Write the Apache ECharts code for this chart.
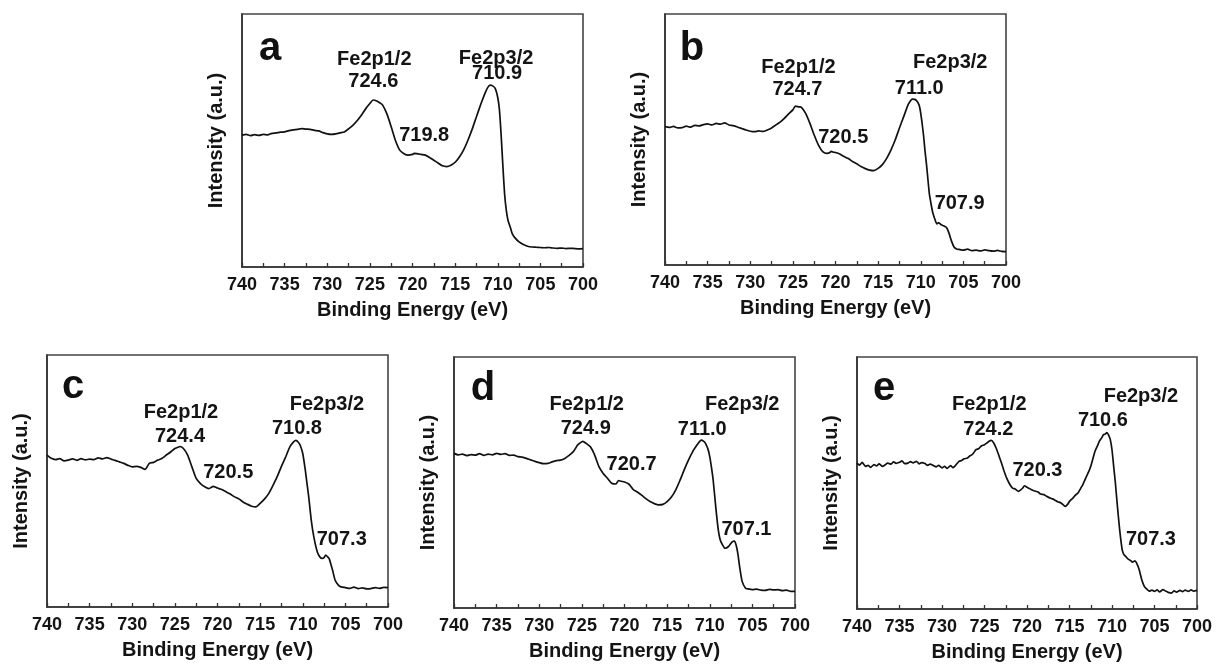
<!DOCTYPE html>
<html>
<head>
<meta charset="utf-8">
<script src="https://cdn.jsdelivr.net/npm/echarts@6/dist/echarts.min.js"></script>
<style>
  html, body { margin: 0; padding: 0; background: #fff; }
  #chart { width: 1217px; height: 668px; }
</style>
</head>
<body>
<div id="chart"></div>
<script>
// Fe 2p XPS spectra, five samples (a–e). Pairs are [binding energy (eV), intensity (a.u.)].
const energyRange = [700, 740];
const energyStep = 5;
const levelNames = ['Fe2p1/2', 'Fe2p3/2'];

const specA = [
  [740,52.1],[739.5,52.4],[739,51.9],[738.5,52.3],[738,52.0],[737.5,52.4],[737,52.2],[736.5,52.8],[736,53.0],
  [735.5,53.3],[735,53.4],[734.5,53.9],[734,54.2],[733.5,54.4],[733,54.7],[732.5,54.5],[732,54.4],[731.5,54.0],
  [731,53.8],[730.5,53.1],[730,52.6],[729.5,52.4],[729,52.6],[728.5,53.0],[728,53.4],[727.5,54.6],[727,56.0],
  [726.5,57.8],[726,60.0],[725.5,62.5],[725,64.6],[724.6,66.0],[724.2,65.6],[723.8,64.8],[723.5,64.0],[723,60.5],
  [722.5,55.4],[722,50.0],[721.5,46.2],[721,44.8],[720.5,44.2],[720,44.5],[719.8,44.9],[719.5,44.8],[719,44.5],
  [718.5,44.2],[718,43.3],[717.5,42.2],[717,41.1],[716.5,40.0],[716,39.7],[715.5,40.2],[715,41.4],[714.5,43.5],
  [714,46.3],[713.5,50.1],[713,54.5],[712.5,59.4],[712,64.2],[711.5,68.6],[711.2,70.8],[710.9,71.9],[710.6,71.6],
  [710.3,70.6],[710,67.0],[709.8,62.0],[709.6,52.0],[709.4,40.0],[709.2,29.0],[709,22.5],[708.8,18.5],[708.5,15.4],
  [708.3,13.2],[708,11.6],[707.5,9.9],[707,8.9],[706.5,8.2],[706,7.9],[705.5,7.8],[705,7.7],[704.5,7.6],[704,7.7],
  [703.5,7.5],[703,7.4],[702.5,7.5],[702,7.3],[701.5,7.4],[701,7.3],[700.5,7.2],[700,7.3]
];
const specB = [
  [740,55.1],[739.5,54.8],[739,55.2],[738.5,54.6],[738,54.7],[737.5,55.3],[737,54.9],[736.5,55.6],[736,55.4],
  [735.5,55.9],[735,56.2],[734.5,55.8],[734,56.4],[733.5,56.1],[733,56.6],[732.5,55.8],[732,55.5],[731.5,55.0],
  [731,54.4],[730.5,53.8],[730,53.3],[729.5,53.1],[729,53.4],[728.5,53.2],[728,53.8],[727.5,54.6],[727,55.8],
  [726.5,56.9],[726,58.4],[725.5,60.2],[725,61.8],[724.7,63.3],[724.3,63.0],[724,62.8],[723.5,60.4],[723,56.4],
  [722.5,51.8],[722,47.8],[721.5,45.2],[721,44.5],[720.7,44.7],[720.5,45.3],[720.2,44.9],[720,44.8],[719.5,44.2],
  [719,43.2],[718.5,42.4],[718,41.2],[717.5,40.3],[717,39.2],[716.5,38.4],[716,37.8],[715.5,37.6],[715,38.5],
  [714.5,40.0],[714,42.5],[713.5,45.8],[713,49.8],[712.5,54.6],[712,59.1],[711.5,63.7],[711.2,65.4],[711,66.1],
  [710.7,66.0],[710.5,65.5],[710.2,63.8],[710,60.4],[709.7,52.5],[709.5,45.5],[709.3,39.2],[709,28.6],[708.8,24.5],
  [708.6,21.0],[708.3,17.8],[708.1,16.4],[707.9,16.9],[707.6,16.0],[707.3,15.6],[707,15.0],[706.7,12.8],[706.4,9.6],
  [706.1,7.2],[705.8,6.4],[705.5,6.2],[705,5.9],[704.5,6.3],[704,5.7],[703.5,5.9],[703,5.6],[702.5,6.0],[702,5.7],
  [701.5,5.5],[701,5.8],[700.5,5.4],[700,5.3]
];
const specC = [
  [740,60.3],[739.5,59.0],[739,58.5],[738.5,58.9],[738,58.0],[737.5,58.3],[737,58.8],[736.5,58.2],[736,58.9],
  [735.5,58.4],[735,58.7],[734.5,58.5],[734,59.2],[733.5,58.8],[733,59.3],[732.5,58.7],[732,58.2],[731.5,57.6],
  [731,57.0],[730.5,56.2],[730,55.6],[729.5,55.8],[729,55.4],[728.5,54.6],[728,57.0],[727.5,57.4],[727,58.3],
  [726.5,59.0],[726,60.3],[725.5,61.5],[725,62.9],[724.7,63.3],[724.4,63.7],[724,62.9],[723.5,60.3],[723,55.6],
  [722.5,51.0],[722,49.0],[721.5,47.7],[721,47.0],[720.8,47.3],[720.5,47.9],[720.2,47.5],[720,47.2],[719.5,46.6],
  [719,45.7],[718.5,44.8],[718,43.7],[717.5,42.9],[717,41.7],[716.5,40.8],[716,40.0],[715.5,39.7],[715,41.1],
  [714.5,42.8],[714,45.0],[713.5,48.2],[713,51.7],[712.5,55.8],[712,59.6],[711.5,63.6],[711.1,65.4],[710.8,66.1],
  [710.5,65.3],[710.3,64.2],[710,60.9],[709.7,54.3],[709.5,49.0],[709.3,43.7],[709,34.4],[708.7,27.8],[708.3,21.9],
  [708,19.9],[707.7,19.3],[707.5,19.6],[707.3,20.6],[707.1,20.0],[706.9,19.2],[706.7,17.0],[706.5,14.6],[706.2,10.6],
  [705.8,8.6],[705.5,8.0],[705,7.7],[704.5,7.4],[704,7.9],[703.5,7.3],[703,7.6],[702.5,7.2],[702,7.3],[701.5,7.7],
  [701,7.4],[700.5,7.8],[700,7.7]
];
const specD = [
  [740,61.6],[739.5,61.0],[739,61.3],[738.5,60.7],[738,61.1],[737.5,60.9],[737,61.5],[736.5,60.8],[736,61.3],
  [735.5,61.0],[735,61.6],[734.5,61.2],[734,61.5],[733.5,60.8],[733,60.9],[732.5,60.3],[732,60.1],[731.5,59.6],
  [731,59.0],[730.5,58.4],[730,57.9],[729.5,57.5],[729,57.6],[728.5,58.2],[728,58.7],[727.5,58.9],[727,59.6],
  [726.5,60.8],[726,62.3],[725.5,64.9],[725.2,65.8],[724.9,66.4],[724.5,65.6],[724,64.2],[723.5,60.9],[723,56.3],
  [722.5,53.6],[722,51.7],[721.5,49.7],[721,49.4],[720.7,50.8],[720.4,50.5],[720,50.2],[719.5,49.4],[719,47.3],
  [718.5,46.2],[718,45.0],[717.5,43.6],[717,42.4],[716.5,41.6],[716,41.1],[715.5,41.3],[715,42.4],[714.5,44.2],
  [714,47.0],[713.5,50.8],[713,55.0],[712.5,58.9],[712,62.3],[711.5,64.9],[711.2,66.3],[711,66.9],[710.7,66.4],
  [710.5,65.6],[710.2,63.2],[710,60.3],[709.8,56.0],[709.6,51.0],[709.3,40.4],[709,31.1],[708.8,27.5],[708.6,25.8],
  [708.2,23.8],[707.8,24.5],[707.4,26.2],[707.1,26.7],[706.9,25.0],[706.7,21.6],[706.5,16.6],[706.2,10.6],[705.8,7.9],
  [705.5,7.6],[705,7.3],[704.5,7.5],[704,7.1],[703.5,7.0],[703,7.4],[702.5,7.2],[702,7.3],[701.5,6.9],[701,7.1],
  [700.5,6.6],[700,6.6]
];
const specE = [
  [740,57.9],[739.7,57.1],[739.4,58.2],[739,56.6],[738.7,57.0],[738.4,56.2],[738,57.3],[737.7,56.8],[737.4,57.6],
  [737,56.6],[736.7,57.2],[736.4,57.9],[736,57.5],[735.7,58.4],[735.4,57.8],[735,58.2],[734.7,58.8],[734.4,57.7],
  [734,57.9],[733.7,58.5],[733.4,58.0],[733,58.6],[732.7,57.6],[732.4,58.1],[732,57.7],[731.7,57.0],[731.4,57.5],
  [731,56.9],[730.7,56.4],[730.4,57.0],[730,56.0],[729.7,56.6],[729.4,55.8],[729,56.9],[728.7,56.1],[728.4,57.0],
  [728,58.6],[727.7,58.9],[727.4,59.6],[727,59.9],[726.7,60.8],[726.4,61.4],[726,63.2],[725.7,63.6],[725.4,64.6],
  [725,65.2],[724.7,65.9],[724.5,66.5],[724.2,66.9],[723.9,65.8],[723.6,63.6],[723.3,60.8],[723,57.9],[722.7,54.8],
  [722.4,52.0],[722,49.3],[721.7,48.0],[721.4,47.6],[721,46.7],[720.7,47.4],[720.5,48.0],[720.3,48.9],[720,48.3],
  [719.7,47.8],[719.4,47.2],[719,46.7],[718.7,46.4],[718.4,45.6],[718,45.4],[717.7,44.7],[717.4,44.2],[717,43.7],
  [716.7,43.2],[716.4,42.6],[716,42.1],[715.7,41.2],[715.5,40.7],[715.2,41.6],[715,42.7],[714.6,44.0],[714.3,45.2],
  [714,46.0],[713.7,47.8],[713.4,49.6],[713,52.6],[712.7,54.8],[712.5,56.6],[712.2,60.2],[712,62.6],[711.7,64.8],
  [711.5,66.5],[711.2,68.0],[711,69.2],[710.8,69.4],[710.6,70.0],[710.4,69.0],[710.2,67.2],[710,63.2],[709.8,56.5],
  [709.6,50.0],[709.4,42.1],[709.1,31.5],[708.8,23.5],[708.6,21.6],[708.4,20.9],[708.2,20.1],[708,19.6],[707.8,19.2],
  [707.6,18.6],[707.3,19.1],[707.1,18.2],[706.8,15.6],[706.5,11.6],[706.2,9.0],[705.9,7.9],[705.6,7.1],[705.3,7.5],
  [705,7.0],[704.7,7.6],[704.4,6.8],[704,7.7],[703.7,7.1],[703.4,6.6],[703,6.3],[702.7,7.2],[702.4,6.7],[702,7.4],
  [701.7,6.9],[701.4,7.5],[701,7.0],[700.7,7.6],[700.4,7.1],[700,7.4]
];

// Peak positions (eV): Fe2p1/2, satellite, Fe2p3/2, low-energy shoulder
const peaksA = [724.6, 719.8, 710.9];
const peaksB = [724.7, 720.5, 711.0, 707.9];
const peaksC = [724.4, 720.5, 710.8, 707.3];
const peaksD = [724.9, 720.7, 711.0, 707.1];
const peaksE = [724.2, 720.3, 710.6, 707.3];

const panelLetters = ['a', 'b', 'c', 'd', 'e'];

// ---- layout ----
const FONT = "'Liberation Sans', Arial, Helvetica, sans-serif";
const INK = '#141414';
const grids = [
  { left: 242, top: 14,  width: 341, height: 253 },
  { left: 665, top: 14,  width: 341, height: 251 },
  { left: 47,  top: 355, width: 341, height: 252 },
  { left: 454, top: 357, width: 341, height: 251 },
  { left: 857, top: 357, width: 340, height: 252 }
];
// label placement: y in intensity units, dx in px
const headerPlace = [
  [{ y: 81.9, dx: 1 }, { y: 82.6, dx: 6 }],
  [{ y: 78.5, dx: 3 }, { y: 80.5, dx: 38 }],
  [{ y: 77.0, dx: 1 }, { y: 80.3, dx: 31 }],
  [{ y: 81.0, dx: 4 }, { y: 81.0, dx: 41 }],
  [{ y: 81.1, dx: -2 }, { y: 84.4, dx: 34 }]
];
const valuePlace = [
  [{ y: 73.4, dx: 0 }, { y: 51.9, dx: 10 }, { y: 76.3, dx: 7 }],
  [{ y: 69.8, dx: 2 }, { y: 50.9, dx: 12 }, { y: 70.5, dx: 7 }, { y: 24.7, dx: 21 }],
  [{ y: 67.7, dx: 0 }, { y: 53.2, dx: 15 }, { y: 71.0, dx: 1 }, { y: 26.7, dx: 16 }],
  [{ y: 71.7, dx: 3 }, { y: 57.1, dx: 13 }, { y: 71.3, dx: 1 }, { y: 31.2, dx: 12 }],
  [{ y: 71.4, dx: -3 }, { y: 54.8, dx: 13 }, { y: 74.7, dx: -4 }, { y: 27.5, dx: 16 }]
];
const letterPos = [[270, 49], [692, 49], [73, 387], [483, 389], [884, 389]];

const spectra = [specA, specB, specC, specD, specE];
const peaks = [peaksA, peaksB, peaksC, peaksD, peaksE];

const option = {
  animation: false,
  backgroundColor: '#fff',
  grid: grids.map(g => Object.assign({ show: true, borderColor: '#444', borderWidth: 1.6, backgroundColor: 'transparent' }, g)),
  xAxis: grids.map((g, i) => ({
    gridIndex: i,
    type: 'value',
    min: energyRange[0],
    max: energyRange[1],
    interval: energyStep,
    inverse: true,
    axisLine: { show: true, lineStyle: { color: '#333', width: 1.6 } },
    axisTick: { show: true, inside: true, length: 4, lineStyle: { color: '#333', width: 1.3 } },
    minorTick: { show: true, splitNumber: 2, length: 4, lineStyle: { color: '#333', width: 1.3 } },
    splitLine: { show: false },
    axisLabel: { fontFamily: FONT, fontSize: 18, fontWeight: 'bold', color: INK, margin: 9 },
    name: 'Binding Energy (eV)',
    nameLocation: 'middle',
    nameGap: 33,
    nameTextStyle: { fontFamily: FONT, fontSize: 20, fontWeight: 'bold', color: INK }
  })),
  yAxis: grids.map((g, i) => ({
    gridIndex: i,
    type: 'value',
    min: 0,
    max: 100,
    axisLine: { show: true, lineStyle: { color: '#333', width: 1.6 } },
    axisTick: { show: false },
    axisLabel: { show: false },
    splitLine: { show: false },
    name: 'Intensity (a.u.)',
    nameLocation: 'middle',
    nameRotate: 90,
    nameGap: 16,
    nameTextStyle: { fontFamily: FONT, fontSize: 20, fontWeight: 'bold', color: INK }
  })),
  series: [],
  graphic: panelLetters.map((t, i) => ({
    type: 'text',
    x: letterPos[i][0],
    y: letterPos[i][1],
    style: {
      text: t,
      fill: '#111',
      font: 'bold 40px ' + FONT,
      textAlign: 'center',
      textVerticalAlign: 'middle',
      verticalAlign: 'middle'
    }
  }))
};

spectra.forEach((spec, i) => {
  option.series.push({
    type: 'line',
    xAxisIndex: i,
    yAxisIndex: i,
    data: spec,
    showSymbol: false,
    smooth: 0.2,
    lineStyle: { color: '#111', width: 1.7 },
    silent: true
  });

  const pk = peaks[i];
  const labelStyle = {
    show: true, position: 'inside', fontFamily: FONT, fontSize: 20, fontWeight: 'bold',
    color: INK, opacity: 1, textBorderWidth: 0, textShadowBlur: 0
  };
  const items = [];
  // level names sit over the 2p1/2 and 2p3/2 peaks
  [pk[0], pk[2]].forEach((e, k) => {
    items.push({
      value: [e, headerPlace[i][k].y],
      label: Object.assign({}, labelStyle, { formatter: levelNames[k], offset: [headerPlace[i][k].dx, 0] })
    });
  });
  pk.forEach((e, k) => {
    items.push({
      value: [e, valuePlace[i][k].y],
      label: Object.assign({}, labelStyle, { formatter: e.toFixed(1), offset: [valuePlace[i][k].dx, 0] })
    });
  });
  option.series.push({
    type: 'scatter',
    xAxisIndex: i,
    yAxisIndex: i,
    symbolSize: 0,
    itemStyle: { color: '#111', opacity: 1 },
    silent: true,
    data: items
  });
});

const chart = echarts.init(document.getElementById('chart'), null, { renderer: 'canvas' });
chart.setOption(option);
</script>
</body>
</html>
